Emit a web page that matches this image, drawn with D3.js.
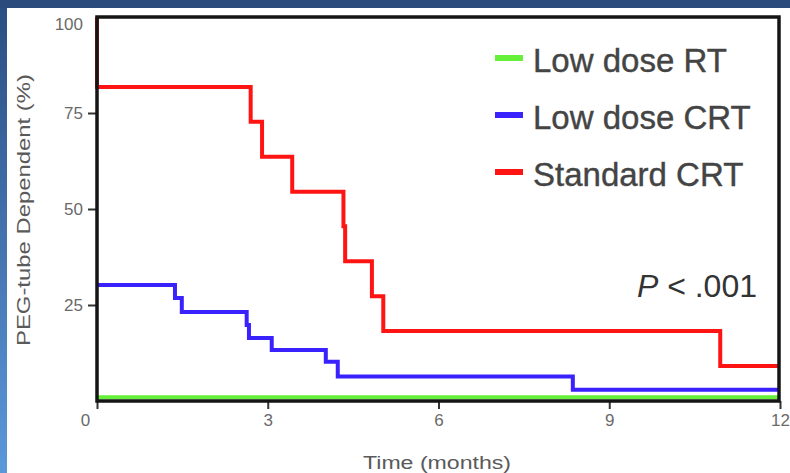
<!DOCTYPE html>
<html lang="en">
<head>
    <meta charset="UTF-8">
    <title>PEG-tube Dependence</title>
    <style>
        body {
            margin: 0;
            font-family: "Liberation Sans", Arial, sans-serif;
        }
        svg { display: block; }
    </style>
</head>
<body>
<script src="https://d3js.org/d3.v7.min.js"></script>
<script>
    // Series: time in months, percent PEG-tube dependent
    const lowRtTime = [0, 12];
    const lowRtPct = [1, 1];

    const lowCrtTime = [0, 1.37, 1.49, 2.63, 2.67, 3.07, 4.02, 4.23, 8.36, 12];
    const lowCrtPct = [30.2, 26.8, 23.2, 19.8, 16.4, 13.3, 10.2, 6.4, 2.9, 2.9];

    const stdCrtTime = [0, 0, 2.70, 2.90, 3.43, 4.33, 4.36, 4.83, 5.03, 10.95, 12];
    const stdCrtPct = [100, 81.8, 72.7, 63.6, 54.5, 45.5, 36.4, 27.3, 18.2, 9.1, 9.1];

    const seriesNames = ["Low dose RT", "Low dose CRT", "Standard CRT"];
    const seriesColors = ["#66f03a", "#3a22ff", "#ff1414"];

    const xTicks = [0, 3, 6, 9, 12];
    const yTicks = [25, 50, 75, 100];

    const width = 790;
    const height = 473;
    const plotLeft = 97, plotRight = 780, plotTop = 17, plotBottom = 401;

    const svg = d3.select("body")
        .append("svg")
        .attr("width", width)
        .attr("height", height);

    // blue slide background with white panel
    const grad = svg.append("defs").append("linearGradient")
        .attr("id", "bg").attr("x1", 0).attr("y1", 0).attr("x2", 0).attr("y2", 1);
    grad.append("stop").attr("offset", "0%").attr("stop-color", "#2b4d82");
    grad.append("stop").attr("offset", "100%").attr("stop-color", "#5b98da");
    svg.append("rect").attr("width", width).attr("height", height).attr("fill", "url(#bg)");
    svg.append("rect").attr("x", 0).attr("y", 0).attr("width", width).attr("height", 8).attr("fill", "#2b4b7c");
    svg.append("rect").attr("x", 7).attr("y", 8).attr("width", width - 7).attr("height", height - 8).attr("fill", "#fff");

    const x = d3.scaleLinear().domain([0, 12]).range([plotLeft, plotRight]);
    const y = d3.scaleLinear().domain([0, 100]).range([plotBottom, plotTop]);

    // Axes
    const xAxis = d3.axisBottom(x).tickValues(xTicks).tickSize(8).tickPadding(5);
    const yAxis = d3.axisLeft(y).tickValues(yTicks).tickSize(9).tickPadding(5);

    const gx = svg.append("g")
        .attr("transform", "translate(0," + plotBottom + ")")
        .call(xAxis);
    const gy = svg.append("g")
        .attr("transform", "translate(" + plotLeft + ",0)")
        .call(yAxis);

    [gx, gy].forEach(g => {
        g.select(".domain").remove();
        g.selectAll(".tick line").attr("stroke", "#333").attr("stroke-width", 2);
        g.selectAll(".tick text")
            .attr("fill", "#6a6a6a")
            .attr("font-size", 17)
            .attr("font-family", "'Liberation Sans', Arial, sans-serif");
    });
    gx.selectAll(".tick text").filter(d => d === 0).attr("dx", -12);
    gy.selectAll(".tick text").filter(d => d === 100).attr("dy", "0.75em");
    gy.selectAll(".tick line").filter(d => d === 100).remove();

    // Survival-style step curves
    const line = d3.line()
        .x(d => x(d[0]))
        .y(d => y(d[1]))
        .curve(d3.curveStepAfter);

    const series = [
        d3.zip(lowRtTime, lowRtPct),
        d3.zip(lowCrtTime, lowCrtPct),
        d3.zip(stdCrtTime, stdCrtPct)
    ];

    svg.selectAll("path.curve")
        .data(series)
        .enter()
        .append("path")
        .attr("class", "curve")
        .attr("d", line)
        .attr("fill", "none")
        .attr("stroke", (d, i) => seriesColors[i])
        .attr("stroke-width", 4);

    // plot frame
    svg.append("rect")
        .attr("x", plotLeft)
        .attr("y", plotTop)
        .attr("width", plotRight - 1 - plotLeft)
        .attr("height", plotBottom - plotTop)
        .attr("fill", "none")
        .attr("stroke", "#151515")
        .attr("stroke-width", 3.5);

    // Legend
    const legend = svg.append("g");
    seriesNames.forEach((name, i) => {
        const ly = 58 + i * 57;
        legend.append("line")
            .attr("x1", 495).attr("x2", 523)
            .attr("y1", ly).attr("y2", ly)
            .attr("stroke", seriesColors[i])
            .attr("stroke-width", 6);
        legend.append("text")
            .attr("x", 533)
            .attr("y", ly + 14)
            .attr("font-size", 33)
            .attr("fill", "#444")
            .attr("stroke", "#444")
            .attr("stroke-width", 0.4)
            .text(name);
    });

    svg.append("text")
        .attr("x", 757)
        .attr("y", 297)
        .attr("text-anchor", "end")
        .attr("font-size", 32)
        .attr("fill", "#333")
        .html('<tspan font-style="italic">P</tspan> &lt; .001');

    // axis titles
    svg.append("text")
        .attr("x", 437)
        .attr("y", 469)
        .attr("text-anchor", "middle")
        .attr("font-size", 18)
        .attr("fill", "#5a5a5a")
        .attr("textLength", 148)
        .attr("lengthAdjust", "spacingAndGlyphs")
        .text("Time (months)");

    svg.append("text")
        .attr("transform", "translate(30,210) rotate(-90)")
        .attr("text-anchor", "middle")
        .attr("font-size", 18)
        .attr("fill", "#5a5a5a")
        .attr("textLength", 272)
        .attr("lengthAdjust", "spacingAndGlyphs")
        .text("PEG-tube Dependent (%)");
</script>
</body>
</html>
